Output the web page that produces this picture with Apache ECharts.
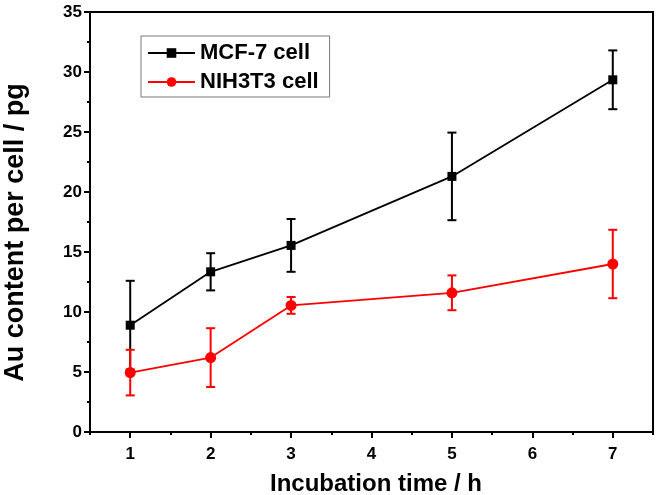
<!DOCTYPE html>
<html>
<head>
<meta charset="utf-8">
<script src="https://cdn.jsdelivr.net/npm/echarts@6/dist/echarts.min.js"></script>
<style>
html,body{margin:0;padding:0;background:#fff;}
#c{width:657px;height:495px;}
</style>
</head>
<body>
<div id="c"></div>
<script>
// ---- data ----
var times = [1, 2, 3, 5, 7];
var mcfValues = [8.9, 13.35, 15.55, 21.3, 29.35];
var mcfErrors = [3.7, 1.55, 2.2, 3.65, 2.45];
var nihValues = [4.95, 6.2, 10.55, 11.6, 14.0];
var nihErrors = [1.9, 2.45, 0.7, 1.45, 2.85];
var xTickLabels = [1, 2, 3, 4, 5, 6, 7];
var seriesNames = ['MCF-7 cell', 'NIH3T3 cell'];

var FONT = "'Liberation Sans', Arial, Helvetica, sans-serif";

function pts(vals) { return times.map(function (t, i) { return [t, vals[i]]; }); }
function errs(vals, e) { return times.map(function (t, i) { return [t, vals[i] - e[i], vals[i] + e[i]]; }); }

function errRender(color) {
  return function (params, api) {
    var x = api.value(0), lo = api.value(1), hi = api.value(2);
    var p1 = api.coord([x, hi]), p2 = api.coord([x, lo]);
    var w = 4.5;
    var st = { stroke: color, lineWidth: 2 };
    return {
      type: 'group',
      children: [
        { type: 'line', shape: { x1: p1[0], y1: p1[1], x2: p2[0], y2: p2[1] }, style: st },
        { type: 'line', shape: { x1: p1[0] - w, y1: p1[1], x2: p1[0] + w, y2: p1[1] }, style: st },
        { type: 'line', shape: { x1: p2[0] - w, y1: p2[1], x2: p2[0] + w, y2: p2[1] }, style: st }
      ]
    };
  };
}

var chart = echarts.init(document.getElementById('c'), null, { renderer: 'canvas' });
chart.setOption({
  animation: false,
  backgroundColor: '#fff',
  grid: { left: 90, right: 4, top: 12, bottom: 63, show: true, borderColor: '#000', borderWidth: 2, backgroundColor: 'transparent', containLabel: false, outerBoundsMode: 'none' },
  legend: {
    data: seriesNames,
    orient: 'vertical',
    left: 141, top: 36,
    padding: [6, 11, 4, 6],
    itemWidth: 47, itemHeight: 12, itemGap: 7,
    borderColor: '#777', borderWidth: 1,
    textStyle: { fontFamily: FONT, fontWeight: 'bold', fontSize: 22, color: '#000', lineHeight: 22 }
  },
  xAxis: [{
    type: 'value', min: 0.5, max: 7.5, position: 'bottom',
    name: 'Incubation time / h', nameLocation: 'middle', nameGap: 40,
    nameTextStyle: { fontFamily: FONT, fontWeight: 'bold', fontSize: 24, color: '#000', padding: [0, 0, 0, 9] },
    axisLine: { lineStyle: { color: '#000', width: 2 } },
    axisTick: { show: true, inside: false, length: 6, lineStyle: { color: '#000', width: 2 }, customValues: xTickLabels },
    axisLabel: { customValues: xTickLabels, margin: 14, fontFamily: FONT, fontWeight: 'bold', fontSize: 17, color: '#000' },
    splitLine: { show: false }
  }, {
    type: 'value', min: 0.5, max: 7.5, interval: 0.5, position: 'bottom', offset: 0,
    axisLine: { show: true, onZero: false, lineStyle: { color: '#000', width: 2 } },
    axisTick: { show: true, inside: false, length: 3, lineStyle: { color: '#000', width: 2 } },
    axisLabel: { show: false },
    splitLine: { show: false }
  }],
  yAxis: {
    type: 'value', min: 0, max: 35, interval: 5,
    name: 'Au content per cell / pg', nameLocation: 'middle', nameGap: 61, nameRotate: 90,
    nameTextStyle: { fontFamily: FONT, fontWeight: 'bold', fontSize: 27, color: '#000', padding: [0, 21, 0, 0] },
    axisLine: { show: true, lineStyle: { color: '#000', width: 2 } },
    axisTick: { show: true, inside: false, length: 6, lineStyle: { color: '#000', width: 2 } },
    minorTick: { show: true, splitNumber: 2, length: 3, lineStyle: { color: '#000', width: 2 } },
    axisLabel: { margin: 8, fontFamily: FONT, fontWeight: 'bold', fontSize: 17, color: '#000' },
    splitLine: { show: false }
  },
  series: [
    {
      type: 'custom', name: 'mcfErr', xAxisIndex: 1, z: 2,
      renderItem: errRender('#000'),
      encode: { x: 0, y: [1, 2] },
      data: errs(mcfValues, mcfErrors)
    },
    {
      type: 'line', name: seriesNames[0], xAxisIndex: 0, z: 3,
      data: pts(mcfValues),
      symbol: 'rect', symbolSize: 9,
      itemStyle: { color: '#000' },
      lineStyle: { color: '#000', width: 1.8 }
    },
    {
      type: 'custom', name: 'nihErr', xAxisIndex: 1, z: 4,
      renderItem: errRender('#ff0000'),
      encode: { x: 0, y: [1, 2] },
      data: errs(nihValues, nihErrors)
    },
    {
      type: 'line', name: seriesNames[1], xAxisIndex: 0, z: 5,
      data: pts(nihValues),
      symbol: 'circle', symbolSize: 11,
      itemStyle: { color: '#ff0000' },
      lineStyle: { color: '#ff0000', width: 1.8 }
    }
  ]
});
</script>
</body>
</html>
